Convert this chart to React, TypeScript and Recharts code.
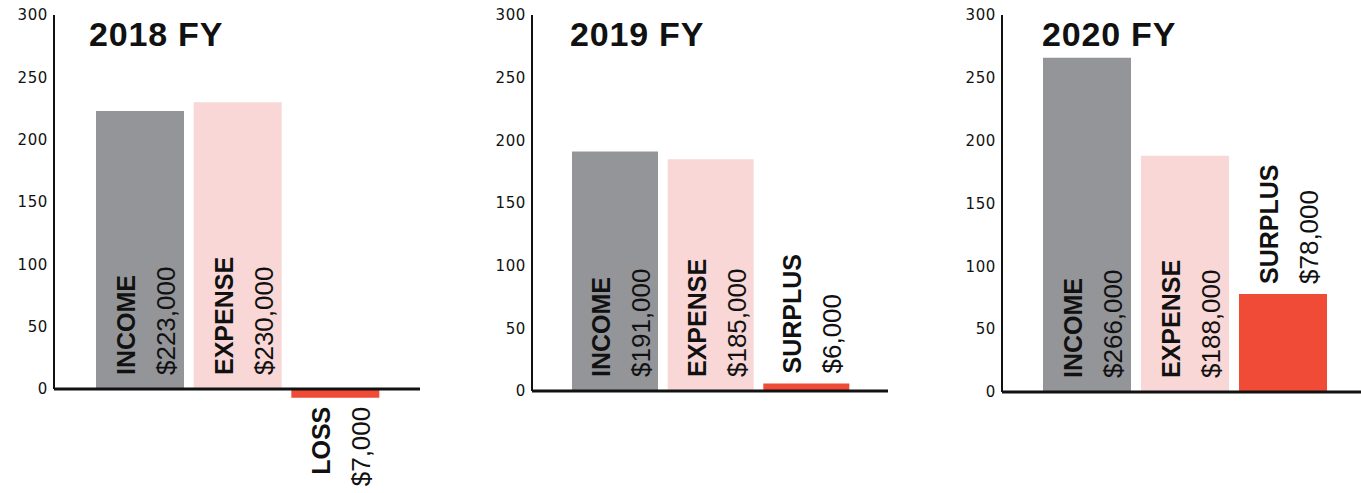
import React from 'react';
import { BarChart, Bar, XAxis, YAxis, ReferenceLine, LabelList, Cell } from 'recharts';

// ---- data (values in $ thousands) ----
const categories2018 = ['INCOME', 'EXPENSE', 'LOSS'];
const values2018 = [223, 230, -7];
const categories2019 = ['INCOME', 'EXPENSE', 'SURPLUS'];
const values2019 = [191, 185, 6];
const categories2020 = ['INCOME', 'EXPENSE', 'SURPLUS'];
const values2020 = [266, 188, 78];
const yTicks = [0, 50, 100, 150, 200, 250, 300];
const titles = ['2018 FY', '2019 FY', '2020 FY'];
const barColors = ['#949599', '#f8d7d6', '#f04b37'];

type PanelCfg = {
  title: string;
  cats: string[];
  vals: number[];
  left: number;
  width: number;
  bottom: number;
  lo: number;
  padL: number;
  padR: number;
  barSize: number;
  titleLeft: number;
};

const panels: PanelCfg[] = [
  { title: titles[0], cats: categories2018, vals: values2018, left: 0, width: 420, bottom: 94, lo: -8, padL: 37, padR: 36, barSize: 88, titleLeft: 89 },
  { title: titles[1], cats: categories2019, vals: values2019, left: 478, width: 410, bottom: 102, lo: 0, padL: 35, padR: 34, barSize: 86, titleLeft: 570 },
  { title: titles[2], cats: categories2020, vals: values2020, left: 948, width: 413, bottom: 101, lo: 0, padL: 36, padR: 29, barSize: 88, titleLeft: 1042 },
];

const makeLabel = (cats: string[], vals: number[]) => (props: any) => {
  const vb = props.viewBox && props.viewBox.width != null ? props.viewBox : props;
  const { x, y, width, height } = vb;
  const index = props.index;
  const v = vals[index];
  const cx = x + width / 2;
  const top = Math.min(y, y + height);
  const bottom = Math.max(y, y + height);
  const barH = bottom - top;
  const nameX = cx - 14;
  const valX = cx + 26;
  const valText = '$' + Math.abs(v * 1000).toLocaleString('en-US');
  let yy: number;
  let anchor: 'start' | 'end';
  if (v >= 0) {
    yy = barH >= 135 ? bottom - 14 : top - 10;
    anchor = 'start';
  } else {
    yy = bottom + 9;
    anchor = 'end';
  }
  return (
    <g>
      <text
        x={nameX}
        y={yy}
        transform={`rotate(-90 ${nameX} ${yy})`}
        textAnchor={anchor}
        dominantBaseline="central"
        fontSize={25}
        fontWeight={700}
        fill="#111"
        fontFamily="'Liberation Sans', Arial, sans-serif"
      >
        {cats[index]}
      </text>
      <text
        x={valX}
        y={yy}
        transform={`rotate(-90 ${valX} ${yy})`}
        textAnchor={anchor}
        dominantBaseline="central"
        fontSize={26}
        fontWeight={400}
        fill="#111"
        fontFamily="'Liberation Sans', Arial, sans-serif"
      >
        {valText}
      </text>
    </g>
  );
};

const Panel = ({ p }: { p: PanelCfg }) => {
  const data = p.cats.map((c, i) => ({ name: c, value: p.vals[i] }));
  return (
    <div style={{ position: 'absolute', left: p.left, top: 0 }}>
      <BarChart
        width={p.width}
        height={493}
        data={data}
        margin={{ top: 15, right: 0, bottom: p.bottom, left: 0 }}
      >
        <XAxis dataKey="name" hide padding={{ left: p.padL, right: p.padR }} />
        <XAxis xAxisId="n" type="number" domain={[0, 1]} hide />
        <YAxis
          width={54}
          domain={[p.lo, 300]}
          ticks={yTicks}
          interval={0}
          axisLine={false}
          tickLine={false}
          tickMargin={0}
          tick={{ fontSize: 15, fill: '#111', fontFamily: "'DejaVu Sans', sans-serif", letterSpacing: 0.6 }}
        />
        <Bar dataKey="value" barSize={p.barSize} isAnimationActive={false}>
          {data.map((d, i) => (
            <Cell key={d.name} fill={barColors[i]} />
          ))}
          <LabelList dataKey="value" content={makeLabel(p.cats, p.vals)} />
        </Bar>
        <ReferenceLine
          xAxisId="n"
          segment={[{ x: 0, y: 0 }, { x: 0, y: 300 }]}
          stroke="#111"
          strokeWidth={2}
        />
        <ReferenceLine y={0} stroke="#111" strokeWidth={3} />
      </BarChart>
    </div>
  );
};

export default function App() {
  return (
    <div
      style={{
        position: 'absolute',
        left: 0,
        top: 0,
        width: 1361,
        height: 493,
        overflow: 'hidden',
        background: '#fff',
        fontFamily: "'Liberation Sans', Arial, sans-serif",
      }}
    >
      {panels.map((p) => (
        <Panel key={p.title} p={p} />
      ))}
      {panels.map((p) => (
        <div
          key={'t' + p.title}
          style={{
            position: 'absolute',
            left: p.titleLeft,
            top: 17,
            fontSize: 34,
            lineHeight: '34px',
            fontWeight: 700,
            letterSpacing: 0.8,
            color: '#111',
            whiteSpace: 'nowrap',
          }}
        >
          {p.title}
        </div>
      ))}
    </div>
  );
}
